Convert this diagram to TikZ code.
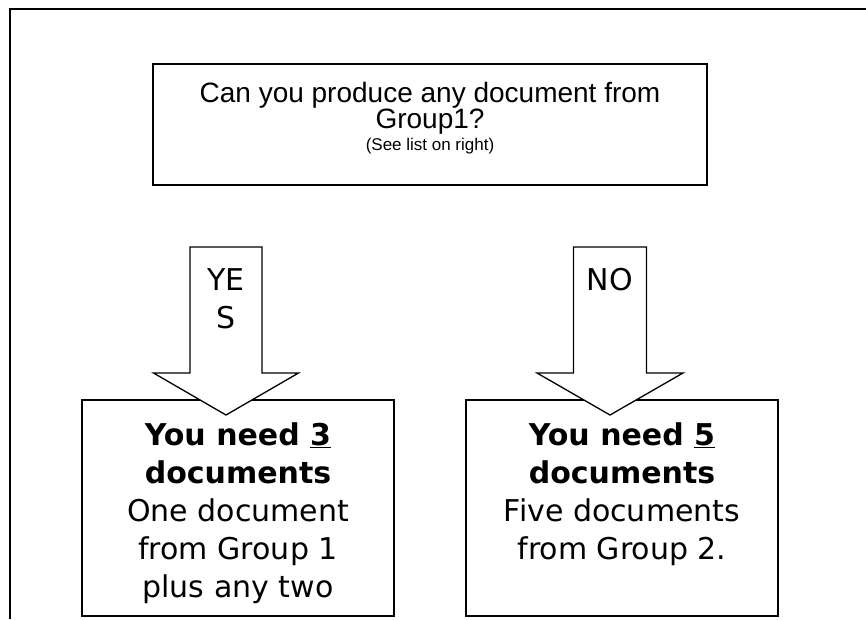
\documentclass[tikz,border=0pt]{standalone}
\usepackage{fontspec}
\setmainfont{DejaVu Sans}
\newfontfamily\arialf{Liberation Sans}
\usetikzlibrary{calc}
\begin{document}
\begin{tikzpicture}[x=1pt,y=1pt,
  framest/.style={line width=2pt},
  qbox/.style={draw,line width=1.5pt,minimum width=554pt,minimum height=121pt,inner sep=0pt},
  abox/.style={draw,line width=1.5pt,minimum width=312pt,minimum height=216pt,inner sep=0pt},
  qtext/.style={font=\arialf\fontsize{28}{25}\selectfont,align=center,inner sep=0pt,anchor=north},
  atext/.style={font=\fontsize{30}{38}\selectfont,align=center,inner sep=0pt,anchor=north},
  arrtext/.style={font=\fontsize{30}{38}\selectfont,align=center,inner sep=0pt,anchor=north},
  fatarrow/.style={draw,fill=white,line width=1.3pt}]
\useasboundingbox (0,0) rectangle (866,-619);
\coordinate (ftl) at (10,-9);
\coordinate (ftr) at (866,-9);
\coordinate (fbl) at (10,-619);
\draw[framest] (ftr) -- (ftl) -- (fbl);
\node[qbox] (q) at (430,-124.5) {};
\node[qtext] (qt) at (430,-81.6) {Can you produce any document from\\Group1?\\[-3pt]{\fontsize{17}{20}\selectfont(See list on right)}};
\node[abox] (yes) at (238,-508) {};
\node[abox] (no) at (622,-508) {};
\node[atext] (yest) at (238,-422) {\textbf{You need \underline{3}}\\\textbf{documents}\\One document\\from Group 1\\plus any two};
\node[atext] (not) at (622,-422) {\textbf{You need \underline{5}}\\\textbf{documents}\\Five documents\\from Group 2.};
\coordinate (ya) at (226,-247);
\coordinate (na) at (610,-247);
\begin{scope}[shift={(ya)}]
\draw[fatarrow] (-36,0) -- (36,0) -- (36,-126) -- (72.5,-126) -- (0,-168) -- (-72.5,-126) -- (-36,-126) -- cycle;
\end{scope}
\begin{scope}[shift={(na)}]
\draw[fatarrow] (-36.5,0) -- (36.5,0) -- (36.5,-126) -- (73,-126) -- (0,-168) -- (-73,-126) -- (-36.5,-126) -- cycle;
\end{scope}
\node[arrtext] (yl) at (226,-268) {YE\\S};
\node[arrtext] (nl) at (610,-268) {NO};
\end{tikzpicture}
\end{document}
